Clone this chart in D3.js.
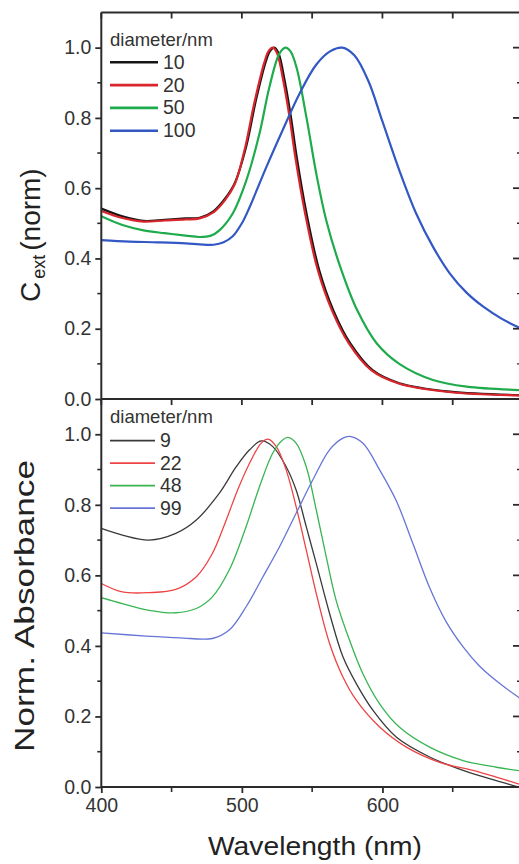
<!DOCTYPE html>
<html><head><meta charset="utf-8">
<script src="https://cdn.jsdelivr.net/npm/d3@7"></script>
<style>
html,body{margin:0;padding:0;background:#fff;}
svg{display:block;font-family:Arial,"Liberation Sans",Helvetica,sans-serif;}
</style></head>
<body>
<svg id="c" width="519" height="864"></svg>
<script>
// ---------- data ----------
const xTicks = [400, 500, 600];
const yTicks = [0, 0.2, 0.4, 0.6, 0.8, 1.0];

const topLabels = ["10", "20", "50", "100"];
const topColors = ["#151515", "#d8262c", "#1eab4c", "#3358c4"];
const top10 = [[400,0.542],[415,0.52],[430,0.507],[445,0.51],[460,0.514],[470,0.516],[480,0.535],[488,0.57],[495,0.615],[503,0.717],[510,0.85],[517,0.96],[520,0.99],[523,1.0],[526,0.985],[530.5,0.905],[535,0.8],[539,0.689],[546,0.528],[555,0.367],[565,0.253],[577,0.159],[593,0.082],[612,0.045],[648,0.021],[700,0.011]];
const top20 = [[400,0.535],[415,0.515],[430,0.505],[445,0.508],[460,0.511],[470,0.514],[480,0.532],[488,0.566],[495,0.612],[502,0.71],[509,0.845],[516,0.958],[519,0.99],[522,1.0],[525,0.985],[529.5,0.905],[534,0.8],[538,0.689],[545,0.528],[554,0.367],[564,0.253],[576,0.159],[592,0.082],[611,0.045],[647,0.02],[700,0.01]];
const top50 = [[400,0.52],[415,0.495],[430,0.48],[445,0.472],[460,0.465],[470,0.461],[478,0.465],[484,0.48],[493.5,0.528],[503,0.62],[512.5,0.755],[519.6,0.888],[526.7,0.983],[531,1.0],[534.5,0.99],[538.8,0.945],[546,0.8],[553,0.64],[560,0.509],[570,0.376],[582,0.253],[596,0.158],[612,0.1],[636,0.054],[660,0.035],[700,0.025]];
const top100 = [[400,0.452],[420,0.448],[440,0.446],[460,0.443],[470,0.44],[480,0.439],[487,0.446],[493.5,0.463],[500,0.5],[505.4,0.545],[517.4,0.66],[529,0.765],[541,0.869],[553,0.952],[563,0.99],[571.5,1.0],[580,0.978],[590,0.905],[600,0.79],[612,0.651],[624,0.528],[636,0.433],[648,0.357],[660,0.302],[672,0.262],[685,0.228],[700,0.198]];

const botLabels = ["9", "22", "48", "99"];
const botColors = ["#3a3a3a", "#ee4444", "#38b552", "#6675d6"];
const bot9 = [[400,0.733],[415,0.714],[434,0.7],[453,0.719],[467.6,0.757],[484,0.833],[496,0.908],[505.5,0.956],[513.8,0.981],[522,0.965],[531.5,0.908],[538.6,0.842],[545.8,0.738],[552.9,0.634],[562.4,0.492],[571.9,0.369],[581.4,0.293],[593.3,0.217],[610,0.141],[633.6,0.085],[657.4,0.047],[681,0.018],[697,0.0],[700,-0.004]];
const bot22 = [[400,0.577],[415,0.553],[434,0.551],[453,0.56],[467.6,0.596],[479,0.662],[488,0.748],[498,0.852],[507.9,0.937],[513.8,0.975],[518.5,0.986],[524.5,0.965],[531.5,0.899],[538.6,0.795],[545.8,0.672],[552.9,0.549],[562.4,0.407],[571.9,0.312],[581.4,0.246],[598,0.17],[617,0.113],[640.7,0.07],[664.4,0.047],[681,0.028],[696.6,0.009],[700,0.005]];
const bot48 = [[400,0.537],[415,0.52],[434,0.501],[453,0.494],[467.6,0.506],[479,0.539],[491,0.615],[503,0.738],[512.6,0.852],[522,0.947],[529,0.984],[532.7,0.991],[538.6,0.975],[545.8,0.908],[552.9,0.786],[560,0.653],[567,0.53],[576.6,0.416],[586,0.322],[598,0.236],[612,0.17],[633.6,0.113],[657.4,0.075],[681,0.056],[700,0.045]];
const bot99 = [[400,0.437],[432,0.428],[455.7,0.423],[479,0.421],[491,0.445],[503,0.511],[515,0.596],[526.8,0.681],[538.6,0.776],[550.5,0.871],[562.4,0.956],[571.9,0.989],[576.6,0.994],[586,0.975],[598,0.899],[610,0.81],[621.6,0.691],[633.6,0.565],[645.4,0.468],[657.4,0.397],[669,0.343],[681,0.301],[696.6,0.255],[700,0.246]];

// ---------- layout ----------
const svg = d3.select("#c");
const L = 101.3, R = 523;
const x = d3.scaleLinear().domain([400, 700]).range([L, R]);
const yTop = d3.scaleLinear().domain([0, 1.1]).range([399, 12.5]);
const yBot = d3.scaleLinear().domain([0, 1.1]).range([787, 399]);
const axisColor = "#2b2b2b";
const minorX = [450, 550, 650];
const allX = [400, 450, 500, 550, 600, 650];
const minorY = [0.1, 0.3, 0.5, 0.7, 0.9];

svg.append("defs").append("clipPath").attr("id", "clip")
  .append("rect").attr("x", L).attr("y", 12.5).attr("width", R - L).attr("height", 787 - 12.5);

function panel(y, series, colors, labels, lw, legend) {
  const g = svg.append("g");
  const line = d3.line().x(d => x(d[0])).y(d => y(d[1])).curve(d3.curveCatmullRom.alpha(0.5));
  const cg = g.append("g").attr("clip-path", "url(#clip)");
  series.forEach((s, i) => {
    cg.append("path").attr("d", line(s)).attr("fill", "none")
      .attr("stroke", colors[i]).attr("stroke-width", lw).attr("stroke-linejoin", "round");
  });
  // left axis
  const ax = g.append("g").attr("transform", `translate(${L},0)`);
  ax.call(d3.axisLeft(y).tickValues(yTicks).tickSize(6).tickPadding(4).tickFormat(d3.format(".1f")));
  ax.select(".domain").remove();
  ax.selectAll(".tick line").attr("stroke", axisColor).attr("stroke-width", 1.8);
  ax.selectAll(".tick text").attr("font-size", 19.5).attr("fill", "#333")
    .attr("font-family", "Arial, 'Liberation Sans', sans-serif");
  ax.selectAll(null).data(minorY).enter().append("line")
    .attr("x1", -4).attr("x2", 0).attr("y1", d => y(d)).attr("y2", d => y(d))
    .attr("stroke", axisColor).attr("stroke-width", 1.6);
  // right axis inward ticks
  const rg = g.append("g").attr("transform", `translate(${R},0)`);
  rg.selectAll(null).data(yTicks).enter().append("line")
    .attr("x1", -10).attr("x2", 0).attr("y1", d => y(d)).attr("y2", d => y(d))
    .attr("stroke", axisColor).attr("stroke-width", 1.8);
  rg.selectAll(null).data(minorY).enter().append("line")
    .attr("x1", -6).attr("x2", 0).attr("y1", d => y(d)).attr("y2", d => y(d))
    .attr("stroke", axisColor).attr("stroke-width", 1.4);
  // top ticks inward
  const ytop = y.range()[1];
  g.selectAll(null).data(allX).enter().append("line")
    .attr("x1", d => x(d)).attr("x2", d => x(d)).attr("y1", ytop).attr("y2", ytop + 6)
    .attr("stroke", axisColor).attr("stroke-width", 1.8);
  // legend
  const lg = g.append("g");
  lg.append("text").attr("x", 110).attr("y", legend.titleY).attr("font-size", 18.5)
    .attr("fill", "#333").text("diameter/nm");
  labels.forEach((lab, i) => {
    const ly = legend.y0 + i * legend.dy;
    lg.append("line").attr("x1", 110).attr("x2", legend.x2).attr("y1", ly).attr("y2", ly)
      .attr("stroke", colors[i]).attr("stroke-width", lw + 0.4);
    lg.append("text").attr("x", legend.tx).attr("y", ly + 6.5).attr("font-size", 19.5)
      .attr("fill", "#333").text(lab);
  });
  // frame lines
  g.append("line").attr("x1", L).attr("x2", L).attr("y1", y.range()[1]).attr("y2", y.range()[0])
    .attr("stroke", axisColor).attr("stroke-width", 2);
  g.append("line").attr("x1", L).attr("x2", R).attr("y1", ytop).attr("y2", ytop)
    .attr("stroke", axisColor).attr("stroke-width", 2);
  return g;
}

panel(yTop, [top10, top20, top50, top100], topColors, topLabels, 2.2,
  {titleY: 45.5, y0: 62.3, dy: 22.8, x2: 158, tx: 163});
panel(yBot, [bot9, bot22, bot48, bot99], botColors, botLabels, 1.3,
  {titleY: 423, y0: 440.7, dy: 22.5, x2: 155, tx: 160});

// bottom x axis
const xa = svg.append("g").attr("transform", "translate(0,787)");
xa.call(d3.axisBottom(x).tickValues(xTicks).tickSize(6).tickPadding(5).tickFormat(d3.format("d")));
xa.select(".domain").remove();
xa.selectAll(".tick line").attr("stroke", axisColor).attr("stroke-width", 1.8);
xa.selectAll(".tick text").attr("font-size", 19.5).attr("fill", "#333")
  .attr("font-family", "Arial, 'Liberation Sans', sans-serif");
xa.selectAll(null).data(minorX).enter().append("line")
  .attr("x1", d => x(d)).attr("x2", d => x(d)).attr("y1", 0).attr("y2", 5)
  .attr("stroke", axisColor).attr("stroke-width", 1.6);
svg.append("line").attr("x1", L).attr("x2", R).attr("y1", 787).attr("y2", 787)
  .attr("stroke", axisColor).attr("stroke-width", 2);

// axis titles
svg.append("text").attr("x", 315).attr("y", 855).attr("text-anchor", "middle")
  .attr("font-size", 26).attr("fill", "#222").attr("textLength", 214)
  .attr("lengthAdjust", "spacingAndGlyphs").text("Wavelength (nm)");

const t1 = svg.append("text").attr("transform", "translate(40,302) rotate(-90)")
  .attr("font-size", 28).attr("fill", "#222");
t1.append("tspan").text("C");
t1.append("tspan").attr("font-size", 18).attr("dx", 3).attr("dy", 5).text("ext");
t1.append("tspan").attr("dy", -5).attr("dx", 4).text("(norm)");

svg.append("text").attr("transform", "translate(34,606) rotate(-90)")
  .attr("text-anchor", "middle").attr("font-size", 27).attr("fill", "#222")
  .attr("textLength", 292).attr("lengthAdjust", "spacingAndGlyphs").text("Norm. Absorbance");
</script>
</body></html>
